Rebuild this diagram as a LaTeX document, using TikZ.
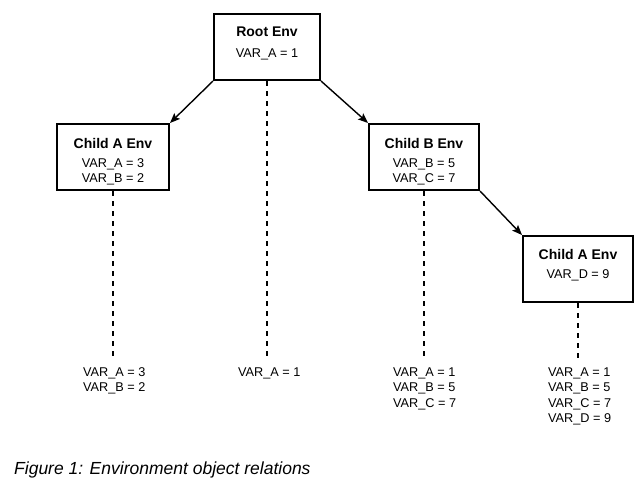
\documentclass[tikz,border=0pt]{standalone}
\usepackage{fontspec}
\setmainfont{Liberation Sans}
\usetikzlibrary{arrows.meta}
\tikzset{
  envbox/.style={draw=black, line width=2pt, fill=white, minimum height=66pt, inner sep=0pt},
  title/.style={font=\bfseries\fontsize{14}{16}\selectfont, inner sep=0pt},
  val/.style={font=\fontsize{12.7}{15}\selectfont, inner sep=0pt},
  lst/.style={font=\fontsize{12.7}{15}\selectfont, inner sep=0pt, anchor=west},
  link/.style={line width=1.4pt, -{Stealth[length=10pt,width=8pt,inset=2pt]}},
  scopeline/.style={line width=1.8pt, dash pattern=on 5pt off 5pt},
}
\begin{document}
\begin{tikzpicture}[x=1pt,y=-1pt]
\useasboundingbox (0,0) rectangle (644,491);
% boxes
\node[envbox, minimum width=112pt] (ca) at (113,157) {};
\node[envbox, minimum width=106pt] (root) at (267,47) {};
\node[envbox, minimum width=110pt] (cb) at (424,157) {};
\node[envbox, minimum width=110pt] (cc) at (578,269) {};
% box texts
\node[title] (roott) at (267,32) {Root Env};
\node[val] (rootv) at (267,54) {VAR\_A = 1};
\node[title] (cat) at (113,143) {Child A Env};
\node[val] (cav1) at (113,164) {VAR\_A = 3};
\node[val] (cav2) at (113,179) {VAR\_B = 2};
\node[title] (cbt) at (424,143) {Child B Env};
\node[val] (cbv1) at (424,164) {VAR\_B = 5};
\node[val] (cbv2) at (424,179) {VAR\_C = 7};
\node[title] (cct) at (578,254) {Child A Env};
\node[val] (ccv1) at (578,275) {VAR\_D = 9};
% arrows
\draw[link] (root.south west) -- (ca.north east);
\draw[link] (root.south east) -- (cb.north west);
\draw[link] (cb.south east) -- (cc.north west);
% dashed scope lines
\coordinate (ea) at (113,358);
\coordinate (er) at (267,360);
\coordinate (eb) at (424,358);
\coordinate (ec) at (578,360);
\draw[scopeline] (ca.south) -- (ea);
\draw[scopeline] (root.south) -- (er);
\draw[scopeline] (cb.south) -- (eb);
\draw[scopeline] (cc.south) -- (ec);
% resolved values
\node[lst] (la1) at (83,373) {VAR\_A = 3};
\node[lst] (la2) at (83,388.5) {VAR\_B = 2};
\node[lst] (lr1) at (238,373) {VAR\_A = 1};
\node[lst] (lb1) at (393,373) {VAR\_A = 1};
\node[lst] (lb2) at (393,388.5) {VAR\_B = 5};
\node[lst] (lb3) at (393,404) {VAR\_C = 7};
\node[lst] (lc1) at (548,373) {VAR\_A = 1};
\node[lst] (lc2) at (548,388.5) {VAR\_B = 5};
\node[lst] (lc3) at (548,404) {VAR\_C = 7};
\node[lst] (lc4) at (548,419.5) {VAR\_D = 9};
% caption
\node[anchor=west, inner sep=0pt, font=\itshape\fontsize{17.5}{20}\selectfont] (cap) at (14,470) {Figure 1: Environment object relations};
\end{tikzpicture}
\end{document}
